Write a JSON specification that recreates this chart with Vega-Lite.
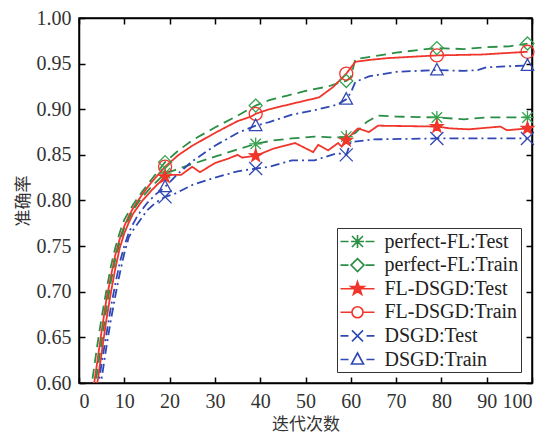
{
  "$schema": "https://vega.github.io/schema/vega-lite/v6.json",
  "width": 453,
  "height": 365,
  "autosize": {"type": "none"},
  "padding": {"left": 79, "top": 18, "right": 19, "bottom": 51},
  "background": "white",
  "config": {
    "view": {"stroke": "black", "strokeWidth": 1.5},
    "axis": {
      "grid": false,
      "labelFont": "Liberation Serif, Times New Roman, serif",
      "labelFontSize": 20,
      "labelColor": "#333",
      "domainColor": "black",
      "domainWidth": 1.5,
      "tickColor": "black",
      "tickWidth": 1.5,
      "tickSize": -6,
      "titleFont": "Noto Sans CJK SC",
      "titleFontSize": 17,
      "titleFontWeight": "normal",
      "titleColor": "#333"
    },
    "legend": {
      "title": null,
      "orient": "bottom-right",
      "offset": 11,
      "padding": 2.5,
      "strokeColor": "#333",
      "fillColor": "white",
      "symbolSize": 400,
      "symbolStrokeWidth": 1.6,
      "symbolOpacity": 1,
      "symbolOffset": 7,
      "labelFont": "Liberation Serif, Times New Roman, serif",
      "labelFontSize": 20,
      "labelColor": "#222",
      "labelOffset": 16,
      "rowPadding": 2.6
    }
  },
  "data": {"values": [
    {"series":"perfect-FL:Train","x":2,"y":0.57},{"series":"perfect-FL:Train","x":3,"y":0.605},{"series":"perfect-FL:Train","x":4,"y":0.64},{"series":"perfect-FL:Train","x":5,"y":0.672},{"series":"perfect-FL:Train","x":6,"y":0.70},{"series":"perfect-FL:Train","x":7,"y":0.727},{"series":"perfect-FL:Train","x":8,"y":0.748},{"series":"perfect-FL:Train","x":9,"y":0.765},{"series":"perfect-FL:Train","x":10,"y":0.779},{"series":"perfect-FL:Train","x":12,"y":0.796},{"series":"perfect-FL:Train","x":14,"y":0.81},{"series":"perfect-FL:Train","x":16,"y":0.823},{"series":"perfect-FL:Train","x":19,"y":0.842},{"series":"perfect-FL:Train","x":22,"y":0.855},{"series":"perfect-FL:Train","x":25,"y":0.866},{"series":"perfect-FL:Train","x":30,"y":0.88},{"series":"perfect-FL:Train","x":35,"y":0.893},{"series":"perfect-FL:Train","x":39,"y":0.904},{"series":"perfect-FL:Train","x":42,"y":0.91},{"series":"perfect-FL:Train","x":46,"y":0.915},{"series":"perfect-FL:Train","x":50,"y":0.92},{"series":"perfect-FL:Train","x":55,"y":0.925},{"series":"perfect-FL:Train","x":58,"y":0.93},{"series":"perfect-FL:Train","x":59,"y":0.931},{"series":"perfect-FL:Train","x":60,"y":0.935},{"series":"perfect-FL:Train","x":61,"y":0.955},{"series":"perfect-FL:Train","x":65,"y":0.958},{"series":"perfect-FL:Train","x":70,"y":0.962},{"series":"perfect-FL:Train","x":75,"y":0.965},{"series":"perfect-FL:Train","x":79,"y":0.967},{"series":"perfect-FL:Train","x":85,"y":0.966},{"series":"perfect-FL:Train","x":90,"y":0.968},{"series":"perfect-FL:Train","x":95,"y":0.969},{"series":"perfect-FL:Train","x":99,"y":0.972},

    {"series":"FL-DSGD:Train","x":2.5,"y":0.57},{"series":"FL-DSGD:Train","x":3.5,"y":0.605},{"series":"FL-DSGD:Train","x":4,"y":0.622},{"series":"FL-DSGD:Train","x":5,"y":0.657},{"series":"FL-DSGD:Train","x":6,"y":0.69},{"series":"FL-DSGD:Train","x":7,"y":0.716},{"series":"FL-DSGD:Train","x":8,"y":0.74},{"series":"FL-DSGD:Train","x":9,"y":0.758},{"series":"FL-DSGD:Train","x":10,"y":0.772},{"series":"FL-DSGD:Train","x":11,"y":0.783},{"series":"FL-DSGD:Train","x":12,"y":0.792},{"series":"FL-DSGD:Train","x":14,"y":0.807},{"series":"FL-DSGD:Train","x":16,"y":0.82},{"series":"FL-DSGD:Train","x":19,"y":0.837},{"series":"FL-DSGD:Train","x":22,"y":0.85},{"series":"FL-DSGD:Train","x":25,"y":0.86},{"series":"FL-DSGD:Train","x":30,"y":0.874},{"series":"FL-DSGD:Train","x":35,"y":0.887},{"series":"FL-DSGD:Train","x":38,"y":0.892},{"series":"FL-DSGD:Train","x":39,"y":0.895},{"series":"FL-DSGD:Train","x":42,"y":0.9},{"series":"FL-DSGD:Train","x":47,"y":0.906},{"series":"FL-DSGD:Train","x":53,"y":0.913},{"series":"FL-DSGD:Train","x":56,"y":0.924},{"series":"FL-DSGD:Train","x":59,"y":0.939},{"series":"FL-DSGD:Train","x":61,"y":0.952},{"series":"FL-DSGD:Train","x":64,"y":0.954},{"series":"FL-DSGD:Train","x":68,"y":0.956},{"series":"FL-DSGD:Train","x":79,"y":0.959},{"series":"FL-DSGD:Train","x":89,"y":0.96},{"series":"FL-DSGD:Train","x":99,"y":0.963},

    {"series":"perfect-FL:Test","x":2.8,"y":0.57},{"series":"perfect-FL:Test","x":3.8,"y":0.605},{"series":"perfect-FL:Test","x":5,"y":0.645},{"series":"perfect-FL:Test","x":6,"y":0.68},{"series":"perfect-FL:Test","x":7,"y":0.71},{"series":"perfect-FL:Test","x":8,"y":0.735},{"series":"perfect-FL:Test","x":9,"y":0.755},{"series":"perfect-FL:Test","x":10,"y":0.77},{"series":"perfect-FL:Test","x":11,"y":0.78},{"series":"perfect-FL:Test","x":12,"y":0.79},{"series":"perfect-FL:Test","x":14,"y":0.804},{"series":"perfect-FL:Test","x":16,"y":0.815},{"series":"perfect-FL:Test","x":19,"y":0.83},{"series":"perfect-FL:Test","x":21,"y":0.833},{"series":"perfect-FL:Test","x":25,"y":0.84},{"series":"perfect-FL:Test","x":30,"y":0.848},{"series":"perfect-FL:Test","x":35,"y":0.856},{"series":"perfect-FL:Test","x":39,"y":0.862},{"series":"perfect-FL:Test","x":43,"y":0.866},{"series":"perfect-FL:Test","x":47,"y":0.868},{"series":"perfect-FL:Test","x":52,"y":0.87},{"series":"perfect-FL:Test","x":57,"y":0.869},{"series":"perfect-FL:Test","x":59,"y":0.87},{"series":"perfect-FL:Test","x":61,"y":0.874},{"series":"perfect-FL:Test","x":63.5,"y":0.886},{"series":"perfect-FL:Test","x":66,"y":0.893},{"series":"perfect-FL:Test","x":70,"y":0.892},{"series":"perfect-FL:Test","x":79,"y":0.891},{"series":"perfect-FL:Test","x":85,"y":0.889},{"series":"perfect-FL:Test","x":90,"y":0.891},{"series":"perfect-FL:Test","x":99,"y":0.891},

    {"series":"FL-DSGD:Test","x":3,"y":0.57},{"series":"FL-DSGD:Test","x":4.2,"y":0.605},{"series":"FL-DSGD:Test","x":5,"y":0.633},{"series":"FL-DSGD:Test","x":6,"y":0.668},{"series":"FL-DSGD:Test","x":7,"y":0.698},{"series":"FL-DSGD:Test","x":8,"y":0.725},{"series":"FL-DSGD:Test","x":9,"y":0.748},{"series":"FL-DSGD:Test","x":10,"y":0.764},{"series":"FL-DSGD:Test","x":11,"y":0.776},{"series":"FL-DSGD:Test","x":12,"y":0.786},{"series":"FL-DSGD:Test","x":14,"y":0.8},{"series":"FL-DSGD:Test","x":16,"y":0.811},{"series":"FL-DSGD:Test","x":19,"y":0.826},{"series":"FL-DSGD:Test","x":20,"y":0.828},{"series":"FL-DSGD:Test","x":22.5,"y":0.828},{"series":"FL-DSGD:Test","x":25,"y":0.837},{"series":"FL-DSGD:Test","x":26.7,"y":0.831},{"series":"FL-DSGD:Test","x":30,"y":0.841},{"series":"FL-DSGD:Test","x":33,"y":0.846},{"series":"FL-DSGD:Test","x":35,"y":0.85},{"series":"FL-DSGD:Test","x":36,"y":0.847},{"series":"FL-DSGD:Test","x":39,"y":0.849},{"series":"FL-DSGD:Test","x":43,"y":0.857},{"series":"FL-DSGD:Test","x":44.5,"y":0.859},{"series":"FL-DSGD:Test","x":47.7,"y":0.863},{"series":"FL-DSGD:Test","x":51.7,"y":0.853},{"series":"FL-DSGD:Test","x":52.8,"y":0.861},{"series":"FL-DSGD:Test","x":55,"y":0.855},{"series":"FL-DSGD:Test","x":57.2,"y":0.863},{"series":"FL-DSGD:Test","x":58,"y":0.859},{"series":"FL-DSGD:Test","x":59,"y":0.866},{"series":"FL-DSGD:Test","x":60.5,"y":0.874},{"series":"FL-DSGD:Test","x":61.6,"y":0.879},{"series":"FL-DSGD:Test","x":64,"y":0.875},{"series":"FL-DSGD:Test","x":66,"y":0.882},{"series":"FL-DSGD:Test","x":79,"y":0.881},{"series":"FL-DSGD:Test","x":82,"y":0.879},{"series":"FL-DSGD:Test","x":86,"y":0.878},{"series":"FL-DSGD:Test","x":93,"y":0.881},{"series":"FL-DSGD:Test","x":94.5,"y":0.877},{"series":"FL-DSGD:Test","x":99,"y":0.879},

    {"series":"DSGD:Train","x":3.5,"y":0.57},{"series":"DSGD:Train","x":4.5,"y":0.605},{"series":"DSGD:Train","x":5,"y":0.622},{"series":"DSGD:Train","x":6,"y":0.652},{"series":"DSGD:Train","x":7,"y":0.682},{"series":"DSGD:Train","x":8,"y":0.708},{"series":"DSGD:Train","x":9,"y":0.732},{"series":"DSGD:Train","x":10,"y":0.75},{"series":"DSGD:Train","x":11,"y":0.765},{"series":"DSGD:Train","x":12,"y":0.775},{"series":"DSGD:Train","x":13,"y":0.784},{"series":"DSGD:Train","x":15,"y":0.797},{"series":"DSGD:Train","x":17,"y":0.807},{"series":"DSGD:Train","x":19,"y":0.815},{"series":"DSGD:Train","x":22,"y":0.83},{"series":"DSGD:Train","x":25,"y":0.843},{"series":"DSGD:Train","x":30,"y":0.86},{"series":"DSGD:Train","x":35,"y":0.874},{"series":"DSGD:Train","x":39,"y":0.882},{"series":"DSGD:Train","x":42,"y":0.886},{"series":"DSGD:Train","x":47,"y":0.894},{"series":"DSGD:Train","x":52,"y":0.899},{"series":"DSGD:Train","x":57,"y":0.905},{"series":"DSGD:Train","x":59,"y":0.911},{"series":"DSGD:Train","x":60,"y":0.918},{"series":"DSGD:Train","x":61,"y":0.93},{"series":"DSGD:Train","x":64,"y":0.936},{"series":"DSGD:Train","x":70,"y":0.941},{"series":"DSGD:Train","x":79,"y":0.943},{"series":"DSGD:Train","x":85,"y":0.942},{"series":"DSGD:Train","x":88,"y":0.943},{"series":"DSGD:Train","x":90,"y":0.946},{"series":"DSGD:Train","x":99,"y":0.948},

    {"series":"DSGD:Test","x":4,"y":0.57},{"series":"DSGD:Test","x":5,"y":0.605},{"series":"DSGD:Test","x":6,"y":0.638},{"series":"DSGD:Test","x":7,"y":0.668},{"series":"DSGD:Test","x":8,"y":0.695},{"series":"DSGD:Test","x":9,"y":0.72},{"series":"DSGD:Test","x":10,"y":0.742},{"series":"DSGD:Test","x":11,"y":0.76},{"series":"DSGD:Test","x":12,"y":0.768},{"series":"DSGD:Test","x":13,"y":0.775},{"series":"DSGD:Test","x":15,"y":0.789},{"series":"DSGD:Test","x":17,"y":0.798},{"series":"DSGD:Test","x":19,"y":0.804},{"series":"DSGD:Test","x":21,"y":0.807},{"series":"DSGD:Test","x":25,"y":0.817},{"series":"DSGD:Test","x":30,"y":0.825},{"series":"DSGD:Test","x":35,"y":0.832},{"series":"DSGD:Test","x":39,"y":0.835},{"series":"DSGD:Test","x":42,"y":0.837},{"series":"DSGD:Test","x":47,"y":0.844},{"series":"DSGD:Test","x":52,"y":0.844},{"series":"DSGD:Test","x":57,"y":0.852},{"series":"DSGD:Test","x":59,"y":0.85},{"series":"DSGD:Test","x":60,"y":0.864},{"series":"DSGD:Test","x":65,"y":0.867},{"series":"DSGD:Test","x":79,"y":0.868},{"series":"DSGD:Test","x":99,"y":0.868}
  ]},
  "layer": [
    {
      "mark": {"type": "line", "strokeWidth": 1.8, "clip": true},
      "encoding": {
        "x": {"field": "x", "type": "quantitative", "scale": {"domain": [0, 100], "nice": false},
              "axis": {"orient": "bottom", "values": [0,10,20,30,40,50,60,70,80,90,100], "labelPadding": 14, "title": "迭代次数", "titlePadding": 5}},
        "y": {"field": "y", "type": "quantitative", "scale": {"domain": [0.6, 1.0], "nice": false, "zero": false},
              "axis": {"orient": "left", "values": [0.6,0.65,0.7,0.75,0.8,0.85,0.9,0.95,1.0], "format": ".2f", "labelPadding": 14, "title": "准确率", "titlePadding": 4}},
        "stroke": {"field": "series", "type": "nominal",
                   "scale": {"domain": ["perfect-FL:Test","perfect-FL:Train","FL-DSGD:Test","FL-DSGD:Train","DSGD:Test","DSGD:Train"],
                             "range": ["#2a8f45","#2a8f45","#f0352b","#f0352b","#3048b5","#3048b5"]},
                   "legend": null},
        "strokeDash": {"field": "series", "type": "nominal",
                   "scale": {"domain": ["perfect-FL:Test","perfect-FL:Train","FL-DSGD:Test","FL-DSGD:Train","DSGD:Test","DSGD:Train"],
                             "range": [[10,6],[10,6],[1,0],[1,0],[9,4,2,4],[9,4,2,4]]},
                   "legend": null}
      }
    },
    {
      "transform": [{"filter": "indexof([19,39,59,79,99], datum.x) >= 0"}],
      "mark": {"type": "point", "filled": true, "size": 170, "strokeWidth": 1.3, "opacity": 1},
      "encoding": {
        "x": {"field": "x", "type": "quantitative",
              "axis": {"orient": "top", "values": [0,10,20,30,40,50,60,70,80,90,100], "labels": false, "title": null}},
        "y": {"field": "y", "type": "quantitative",
              "axis": {"orient": "right", "values": [0.6,0.65,0.7,0.75,0.8,0.85,0.9,0.95,1.0], "labels": false, "title": null}},
        "stroke": {"field": "series", "type": "nominal",
                   "scale": {"domain": ["perfect-FL:Test","perfect-FL:Train","FL-DSGD:Test","FL-DSGD:Train","DSGD:Test","DSGD:Train"],
                             "range": ["#37a24f","#37a24f","#f0352b","#f0352b","#3048b5","#3048b5"]},
                   "legend": null},
        "fill": {"field": "series", "type": "nominal",
                 "scale": {"domain": ["perfect-FL:Test","perfect-FL:Train","FL-DSGD:Test","FL-DSGD:Train","DSGD:Test","DSGD:Train"],
                           "range": ["transparent","transparent","#f0352b","transparent","transparent","transparent"]},
                 "legend": null},
        "shape": {"field": "series", "type": "nominal",
                  "scale": {"domain": ["perfect-FL:Test","perfect-FL:Train","FL-DSGD:Test","FL-DSGD:Train","DSGD:Test","DSGD:Train"],
                            "range": [
                              "M-0.8,-0.8L0.8,0.8M-0.8,0.8L0.8,-0.8M0,-1L0,1M-1,0L1,0",
                              "M0,-1L1,0L0,1L-1,0Z",
                              "M0,-1L0.235,-0.324L0.951,-0.309L0.380,0.124L0.588,0.809L0,0.4L-0.588,0.809L-0.380,0.124L-0.951,-0.309L-0.235,-0.324Z",
                              "circle",
                              "M-1,-1L1,1M-1,1L1,-1",
                              "M0,-1L0.95,0.75L-0.95,0.75Z"
                            ]},
                  "legend": null}
      }
    },
    {
      "transform": [{"filter": "datum.x == 99"}],
      "mark": {"type": "point", "filled": true, "size": 400, "strokeWidth": 1.6, "opacity": 0},
      "encoding": {
        "x": {"field": "x", "type": "quantitative", "axis": null},
        "y": {"field": "y", "type": "quantitative", "axis": null},
        "stroke": {"field": "series", "type": "nominal",
                   "scale": {"domain": ["perfect-FL:Test","perfect-FL:Train","FL-DSGD:Test","FL-DSGD:Train","DSGD:Test","DSGD:Train"],
                             "range": ["#2a8f45","#2a8f45","#f0352b","#f0352b","#3048b5","#3048b5"]}},
        "fill": {"field": "series", "type": "nominal",
                 "scale": {"domain": ["perfect-FL:Test","perfect-FL:Train","FL-DSGD:Test","FL-DSGD:Train","DSGD:Test","DSGD:Train"],
                           "range": ["transparent","transparent","#f0352b","transparent","transparent","transparent"]}},
        "shape": {"field": "series", "type": "nominal",
                  "scale": {"domain": ["perfect-FL:Test","perfect-FL:Train","FL-DSGD:Test","FL-DSGD:Train","DSGD:Test","DSGD:Train"],
                            "range": [
                              "M-1.7,0L-0.9,0M0.8,0L1.7,0M-0.55,-0.55L0.55,0.55M-0.55,0.55L0.55,-0.55M0,-0.65L0,0.65M-0.65,0L0.65,0",
                              "M-1.7,0L-0.9,0M0.8,0L1.7,0M0,-0.65L0.65,0L0,0.65L-0.65,0Z",
                              "M-1.7,0L1.7,0M0,-0.7L0.165,-0.227L0.666,-0.216L0.266,0.087L0.412,0.566L0,0.28L-0.412,0.566L-0.266,0.087L-0.666,-0.216L-0.165,-0.227Z",
                              "M-1.7,0L-0.55,0M0.55,0L1.7,0M0.55,0A0.55,0.55,0,1,1,-0.55,0A0.55,0.55,0,1,1,0.55,0",
                              "M-1.7,0L-0.9,0M0.9,0L1.7,0M-0.55,-0.55L0.55,0.55M-0.55,0.55L0.55,-0.55",
                              "M-1.7,0L-0.9,0M0.9,0L1.7,0M0,-0.65L0.6,0.45L-0.6,0.45Z"
                            ]}}
      }
    }
  ],
  "resolve": {
    "axis": {"x": "independent", "y": "independent"},
    "scale": {"stroke": "independent", "fill": "independent", "shape": "independent", "strokeDash": "independent"}
  }
}
